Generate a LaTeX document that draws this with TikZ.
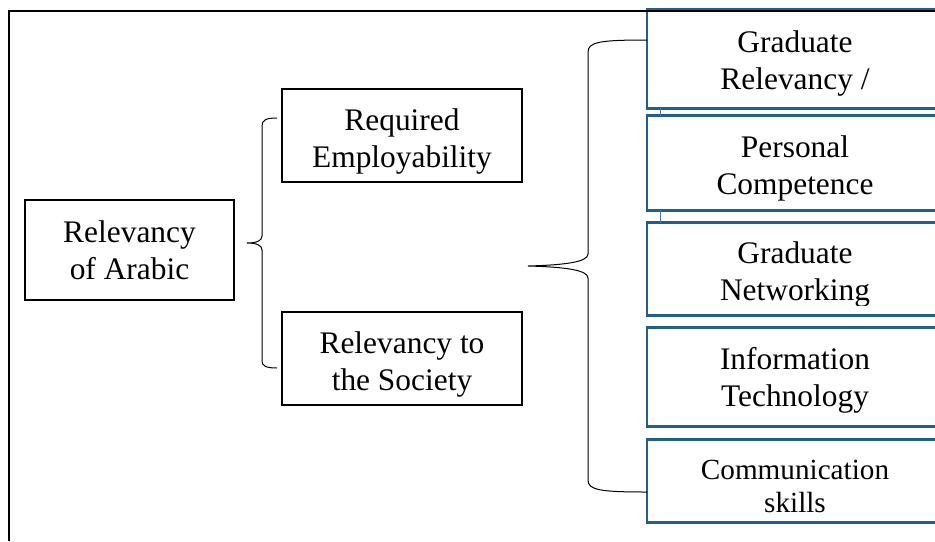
\documentclass[tikz,border=0pt]{standalone}
\usepackage{fontspec}
\setmainfont{Liberation Serif}
\definecolor{boxblue}{RGB}{31,95,138}
\definecolor{linkblue}{RGB}{68,114,196}
\tikzset{
  box/.style={draw, line width=1pt, inner sep=0pt},
  item/.style={anchor=west, inner sep=0pt, minimum width=148pt},
  itemline/.style={draw=boxblue, line width=1.2pt},
  txt/.style={align=center, inner sep=0pt},
  link/.style={draw=linkblue, line width=0.5pt},
  brace/.style={draw, line width=0.5pt}
}
\begin{document}
\begin{tikzpicture}[x=0.5pt, y=-0.5pt, font=\fontsize{15.7}{18.5}\selectfont]
\useasboundingbox (0,0) rectangle (935,541);

\node[box, minimum width=104.5pt, minimum height=50pt] (A) at (129.5,250) {};
\node[box, minimum width=120pt, minimum height=46.5pt] (E) at (402,135.5) {};
\node[box, minimum width=120pt, minimum height=46.5pt] (S) at (402,358.5) {};
\node[txt] (At) at (129.5,250) {Relevancy\\of Arabic};
\node[txt] (Et) at (402,141.5) {Required\\Employability};
\node[txt] (St) at (402,364.5) {Relevancy to\\the Society};

\node[item, minimum height=49pt] (G) at (647,59) {};
\node[item, minimum height=47pt] (P) at (647,163) {};
\node[item, minimum height=46pt] (N) at (647,269) {};
\node[item, minimum height=49pt] (I) at (647,377) {};
\node[item, minimum height=41pt] (C) at (647,481) {};
% boxes run off the right edge
\foreach \b in {G,P,N,I,C}
  \draw[itemline] (\b.north east) -- (\b.north west) -- (\b.south west) -- (\b.south east);
\node[txt] (Gt) at (795,63) {Graduate\\Relevancy /};
\node[txt] (Pt) at (795,168) {Personal\\Competence};
\begin{scope}
  \clip (647,223) rectangle (943,305);
  \node[txt] (Nt) at (795,274) {Graduate\\Networking};
\end{scope}
\node[txt] (It) at (795,380) {Information\\Technology};
\node[txt, font=\fontsize{14.6}{16.5}\selectfont] (Ct) at (795,486) {Communication\\skills};

\draw[link] ([xshift=6.5pt]G.south west) -- ([xshift=6.5pt]P.north west);
\draw[link] ([xshift=6.5pt]P.south west) -- ([xshift=6.5pt]N.north west);

% frame
\draw[line width=1pt] (9,541) -- (9,10.5) -- (935,10.5);

% braces
\coordinate (t1) at (247,243);
\coordinate (t2) at (528,266);
\draw[brace] (277,118) .. controls (266,118) and (262,120) .. (262,126) -- (262,236)
  .. controls (262,241) and (256,243) .. (t1)
  .. controls (256,243) and (262,245) .. (262,250) -- (262,361)
  .. controls (262,366) and (266,368) .. (277,368);
\draw[brace] (647,40) .. controls (600,40) and (588,42) .. (588,52) -- (588,254)
  .. controls (588,262) and (565,265) .. (t2)
  .. controls (565,267) and (588,270) .. (588,278) -- (588,480)
  .. controls (588,490) and (600,492) .. (647,492);
\end{tikzpicture}
\end{document}
